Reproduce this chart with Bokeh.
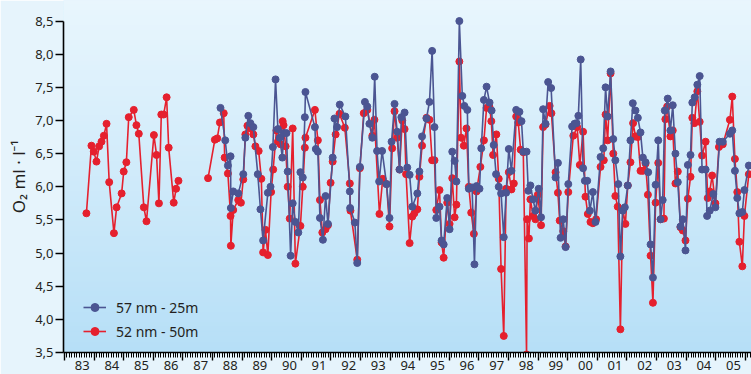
import math
from bokeh.plotting import figure
from bokeh.models import (ColumnDataSource, LinearAxis, FixedTicker, Range1d,
                          BoxAnnotation, Legend, LegendItem)
from bokeh.embed import file_html
from bokeh.resources import INLINE

FONT = "Noto Sans"
NaN = float("nan")

# 52 nm - 50m (red)
red_year = [1983.74, 1983.91, 1983.99, 1984.08, 1984.17, 1984.25, 1984.33, 1984.42, 1984.51, 1984.67,
            1984.76, 1984.93, 1985.00, 1985.09, 1985.17, 1985.34, 1985.43, 1985.51, 1985.68, 1985.77,
            1986.02, 1986.11, 1986.19, 1986.27, 1986.35, 1986.45, 1986.52, 1986.69, 1986.77, 1986.85,
            NaN,
            1987.85, 1988.08, 1988.16, 1988.25, 1988.38, 1988.41, 1988.52, 1988.61, 1988.62, 1988.70,
            1988.87, 1988.96, 1989.04, 1989.11, 1989.18, 1989.28, 1989.38, 1989.45, 1989.56, 1989.65,
            1989.71, 1989.79, 1989.87, 1989.98, 1990.05, 1990.16, 1990.21, 1990.30, 1990.37, 1990.40,
            1990.47, 1990.54, 1990.61, 1990.71, 1990.80, 1990.97, 1991.05, 1991.12, 1991.14, 1991.46,
            1991.56, 1991.63, 1991.71, 1991.82, 1991.90, 1991.99, 1992.06, 1992.16, 1992.29, 1992.47,
            1992.64, 1992.66, 1992.89, 1992.98, 1993.11, 1993.23, 1993.40, 1993.47, 1993.64, 1993.75,
            1993.88, 1993.98, 1994.07, 1994.15, 1994.24, 1994.32, 1994.41, 1994.49, 1994.54, 1994.66,
            1994.75, 1994.82, 1994.92, 1994.99, 1995.08, 1995.23, 1995.33, 1995.42, 1995.50, 1995.56,
            1995.67, 1995.74, 1995.81, 1995.93, 1996.01, 1996.10, 1996.18, 1996.24, 1996.34, 1996.40,
            1996.49, 1996.58, 1996.66, 1996.74, 1996.83, 1996.92, 1997.05, 1997.17, 1997.26, 1997.36,
            1997.42, 1997.48, 1997.59, 1997.67, 1997.75, 1997.84, 1997.92, 1998.01, 1998.10, 1998.18,
            1998.26, 1998.33, 1998.41, 1998.50, 1998.61, 1998.63, 1998.69, 1998.74, 1998.83, 1998.91,
            1998.99, 1999.10, 1999.17, 1999.25, 1999.39, 1999.45, 1999.59, 1999.67, 1999.73, 1999.85,
            1999.93, 2000.02, 2000.19, 2000.32, 2000.41, 2000.52, 2000.60, 2000.68, 2000.77, 2000.85,
            2000.96, 2001.11, 2001.22, 2001.28, 2001.35, 2001.45, 2001.54, 2001.61, 2001.69, 2001.78,
            2001.86, 2001.95, 2002.03, 2002.12, 2002.21, 2002.29, 2002.37, 2002.46, 2002.54, 2002.63,
            2002.71, 2002.80, 2002.88, 2002.97, 2003.06, 2003.14, 2003.25, 2003.30, 2003.36, 2003.47,
            2003.55, 2003.64, 2003.72, 2003.81, 2003.89, 2003.98, 2004.06, 2004.15, 2004.21, 2004.28,
            2004.38, 2004.46, 2004.54, 2004.66, 2004.73, 2004.80, 2004.88, 2004.99, 2005.11, 2005.24,
            2005.48, 2005.56, 2005.65, 2005.73, 2005.80, 2005.90, 2005.97, 2006.12]
red_o2 = [5.60, 6.62, 6.53, 6.38, 6.61, 6.68, 6.77, 6.95, 6.07, 5.30,
          5.69, 5.90, 6.23, 6.37, 7.05, 7.16, 6.93, 6.80, 5.69, 5.48,
          6.78, 6.48, 5.75, 7.09, 7.09, 7.35, 6.59, 5.76, 5.97, 6.09,
          NaN,
          6.13, 6.71, 6.73, 6.97, 7.11, 6.44, 6.20, 5.56, 5.11, 5.65,
          5.80, 5.76, 6.11, 6.79, 6.92, 6.88, 6.79, 6.61, 6.54, 6.12,
          5.01, 5.35, 4.97, 5.92, 6.26, 6.85, 6.68, 6.64, 6.99, 6.93,
          6.61, 6.00, 5.52, 6.88, 4.84, 5.41, 6.00, 6.59, 6.74, 7.16,
          6.70, 5.80, 5.31, 5.36, 5.42, 6.06, 6.38, 6.79, 7.10, 6.89,
          6.05, 5.64, 4.90, 6.28, 7.11, 7.16, 6.77, 7.01, 5.59, 6.12,
          6.04, 5.40, 6.58, 7.14, 6.74, 6.26, 7.00, 6.87, 6.19, 5.15,
          5.55, 5.60, 5.66, 6.15, 6.62, 7.04, 7.01, 6.40, 6.40, 5.65,
          5.95, 5.16, 4.93, 5.76, 5.44, 6.13, 5.54, 5.73, 7.89, 6.74,
          6.62, 6.88, 6.00, 5.61, 5.29, 5.93, 6.30, 6.70, 7.19, 7.20,
          6.99, 6.48, 6.79, 6.12, 4.76, 3.75, 5.97, 6.22, 5.96, 6.05,
          7.06, 6.97, 6.56, 6.52, 3.47, 5.51, 5.22, 5.81, 5.56, 5.51,
          5.88, 5.42, 6.90, 6.94, 7.22, 7.11, 6.22, 5.91, 5.49, 5.33,
          5.10, 5.92, 6.77, 6.90, 6.33, 6.83, 5.85, 5.59, 5.47, 5.45,
          5.51, 6.30, 6.40, 7.09, 6.70, 7.71, 6.50, 5.86, 5.70, 3.85,
          5.66, 5.44, 6.02, 6.37, 6.96, 6.76, 6.75, 6.24, 6.24, 6.35,
          5.88, 4.96, 4.25, 5.76, 6.36, 5.51, 5.52, 7.02, 7.21, 6.76,
          6.85, 6.05, 6.23, 5.39, 5.34, 5.19, 5.82, 6.15, 7.04, 6.96,
          7.44, 6.98, 6.47, 6.68, 5.83, 5.93, 6.17, 5.75, 6.60, 6.64,
          7.01, 7.36, 6.42, 5.92, 5.17, 4.80, 5.56, 6.19]

# 57 nm - 25m (blue)
blue_year = [1988.27, 1988.43, 1988.52, 1988.61, 1988.62, 1988.70, 1988.87, 1989.04, 1989.11, 1989.21,
             1989.28, 1989.38, 1989.53, 1989.62, 1989.71, 1989.87, 1989.96, 1990.04, 1990.13, 1990.21,
             1990.27, 1990.36, 1990.41, 1990.50, 1990.54, 1990.64, 1990.71, 1990.80, 1990.90, 1990.97,
             1991.05, 1991.12, 1991.14, 1991.46, 1991.49, 1991.56, 1991.63, 1991.73, 1991.82, 1991.90,
             1992.06, 1992.12, 1992.21, 1992.30, 1992.49, 1992.64, 1992.65, 1992.81, 1992.89, 1992.98,
             1993.15, 1993.23, 1993.30, 1993.40, 1993.48, 1993.56, 1993.63, 1993.73, 1993.88, 1993.98,
             1994.05, 1994.15, 1994.24, 1994.32, 1994.38, 1994.49, 1994.58, 1994.66, 1994.75, 1994.92,
             1994.99, 1995.08, 1995.23, 1995.33, 1995.42, 1995.50, 1995.56, 1995.67, 1995.74, 1995.81,
             1995.93, 1996.01, 1996.10, 1996.18, 1996.24, 1996.34, 1996.44, 1996.51, 1996.61, 1996.66,
             1996.77, 1996.85, 1996.92, 1997.02, 1997.08, 1997.17, 1997.26, 1997.36, 1997.43, 1997.50,
             1997.58, 1997.67, 1997.75, 1997.84, 1997.92, 1998.01, 1998.10, 1998.26, 1998.37, 1998.44,
             1998.50, 1998.61, 1998.67, 1998.74, 1998.83, 1998.91, 1999.02, 1999.10, 1999.17, 1999.25,
             1999.34, 1999.44, 1999.59, 1999.67, 1999.76, 1999.85, 1999.93, 2000.02, 2000.15, 2000.23,
             2000.30, 2000.36, 2000.44, 2000.52, 2000.58, 2000.66, 2000.75, 2000.85, 2000.94, 2001.11,
             2001.20, 2001.28, 2001.35, 2001.45, 2001.54, 2001.61, 2001.71, 2001.78, 2001.86, 2001.93,
             2002.03, 2002.12, 2002.20, 2002.29, 2002.37, 2002.46, 2002.54, 2002.63, 2002.72, 2002.80,
             2002.88, 2002.97, 2003.06, 2003.14, 2003.21, 2003.28, 2003.38, 2003.47, 2003.55, 2003.64,
             2003.72, 2003.81, 2003.89, 2003.98, 2004.06, 2004.15, 2004.21, 2004.29, 2004.38, 2004.46,
             2004.54, 2004.66, 2004.71, 2004.80, 2004.92, 2004.99, 2005.13, 2005.24, 2005.48, 2005.56,
             2005.65, 2005.73, 2005.80, 2005.90, 2005.97, 2006.12]
blue_o2 = [7.19, 6.70, 6.32, 6.46, 5.68, 5.93, 5.90, 6.19, 6.74, 7.07,
           6.96, 6.90, 6.19, 5.66, 5.19, 5.91, 6.00, 6.60, 7.62, 6.87,
           6.74, 6.44, 6.81, 6.81, 6.23, 4.96, 5.75, 5.47, 5.31, 6.22,
           6.14, 7.05, 7.43, 6.90, 6.57, 6.53, 5.53, 5.20, 5.86, 5.44,
           6.44, 7.03, 6.90, 7.24, 7.06, 5.93, 5.68, 5.46, 4.85, 6.30,
           7.28, 7.21, 6.95, 6.74, 7.66, 6.54, 6.08, 6.54, 6.04, 5.53,
           6.68, 7.25, 6.83, 6.26, 7.05, 7.12, 6.29, 6.18, 5.70, 5.90,
           6.23, 6.76, 7.03, 7.28, 8.05, 6.90, 5.53, 5.70, 5.19, 5.13,
           5.83, 5.36, 6.53, 6.39, 6.08, 8.50, 7.37, 7.22, 7.16, 5.97,
           5.99, 4.83, 6.01, 5.97, 6.58, 7.31, 7.51, 7.27, 7.15, 6.63,
           6.19, 6.00, 5.90, 5.24, 5.91, 6.57, 6.24, 7.16, 7.13, 6.99,
           6.53, 6.53, 5.94, 6.02, 5.81, 5.64, 5.97, 5.54, 7.17, 6.95,
           7.58, 7.49, 6.14, 6.36, 5.23, 5.51, 5.09, 6.04, 6.91, 6.95,
           6.96, 7.07, 7.92, 6.28, 6.09, 6.09, 5.64, 5.92, 5.47, 6.45,
           6.58, 7.50, 7.06, 7.74, 6.72, 6.40, 6.04, 4.95, 5.64, 5.69,
           6.02, 6.70, 7.26, 7.15, 7.04, 6.82, 6.44, 6.37, 6.22, 5.13,
           4.63, 6.03, 6.70, 5.51, 5.80, 7.15, 7.33, 6.85, 7.23, 6.50,
           6.07, 5.40, 5.51, 5.04, 6.33, 6.48, 7.27, 7.35, 7.54, 7.67,
           6.26, 6.26, 5.56, 5.64, 5.89, 5.69, 6.68, 6.68, 6.80, 6.85,
           6.24, 5.83, 5.60, 5.62, 5.95, 6.32]

year_starts = list(range(1983, 2007))
year_labels = ["83", "84", "85", "86", "87", "88", "89", "90", "91", "92", "93", "94",
               "95", "96", "97", "98", "99", "00", "01", "02", "03", "04", "05"]
y_ticks = [3.5, 4.0, 4.5, 5.0, 5.5, 6.0, 6.5, 7.0, 7.5, 8.0, 8.5]
y_labels = ["3,5", "4,0", "4,5", "5,0", "5,5", "6,0", "6,5", "7,0", "7,5", "8,0", "8,5"]

BLUE = "#4b5592"
RED = "#e5202e"
TXT = "#231f20"

y_top = 8.81
p = figure(width=751, height=374, output_backend="svg", toolbar_location=None,
           x_range=Range1d(1982.966, 2006.21), y_range=Range1d(3.5, y_top),
           x_axis_type=None, y_axis_type=None,
           min_border_left=63, min_border_right=0, min_border_top=0, min_border_bottom=22)
p.outline_line_color = None
p.border_fill_color = "#e6f4fc"
p.background_fill_color = "#d0ebfa"

# vertical gradient background
n = 70
top_c = (233, 246, 253)
bot_c = (182, 223, 247)
h = (y_top - 3.5) / n
for i in range(n):
    t = (i + 0.5) / n
    c = tuple(int(round(top_c[k] + (bot_c[k] - top_c[k]) * t)) for k in range(3))
    hi = y_top - i * h + 0.01
    lo = y_top - (i + 1) * h - 0.01
    p.add_layout(BoxAnnotation(bottom=lo, top=hi, fill_color="#%02x%02x%02x" % c,
                               fill_alpha=1.0, line_color=None, level="underlay"))

red_src = ColumnDataSource(dict(x=red_year, y=red_o2))
blue_src = ColumnDataSource(dict(x=blue_year, y=blue_o2))

rl = p.line("x", "y", source=red_src, line_color=RED, line_width=1.6)
rs = p.scatter("x", "y", source=red_src, size=7, fill_color=RED, line_color=RED)
bl = p.line("x", "y", source=blue_src, line_color=BLUE, line_width=1.6)
bs = p.scatter("x", "y", source=blue_src, size=7, fill_color=BLUE, line_color=BLUE)

# y axis
yax = LinearAxis(ticker=FixedTicker(ticks=y_ticks, minor_ticks=[]), bounds=(3.5, 8.5),
                 axis_label="O₂ ml · l⁻¹")
yax.major_label_overrides = {t: l for t, l in zip(y_ticks, y_labels)}
yax.axis_line_color = "black"
yax.axis_line_width = 1.6
yax.major_tick_line_color = "black"
yax.major_tick_line_width = 1.4
yax.major_tick_out = 8
yax.major_tick_in = 0
yax.major_label_standoff = 2
yax.major_label_text_font = FONT
yax.major_label_text_font_size = "13px"
yax.major_label_text_color = TXT
yax.axis_label_text_font = FONT
yax.axis_label_text_font_size = "17px"
yax.axis_label_text_font_style = "normal"
yax.axis_label_text_color = TXT
yax.axis_label_standoff = 2
p.add_layout(yax, "left")

# x axis line with year-boundary ticks (no labels, takes no layout space)
xax1 = LinearAxis(ticker=FixedTicker(ticks=[], minor_ticks=year_starts))
xax1.axis_line_color = "black"
xax1.axis_line_width = 1.6
xax1.major_tick_line_color = None
xax1.major_tick_out = 0
xax1.major_tick_in = 0
xax1.minor_tick_line_color = "black"
xax1.minor_tick_line_width = 1.4
xax1.minor_tick_out = 0
xax1.minor_tick_in = -8
xax1.major_label_standoff = 0
p.add_layout(xax1, "below")

# monthly ticks + year labels centred in each year
month_ticks = [1983 + k / 12 for k in range(0, 12 * 23 + 3)]
label_pos = [y + 0.6 for y in year_starts[:-1]]
xax2 = LinearAxis(ticker=FixedTicker(ticks=label_pos, minor_ticks=month_ticks))
xax2.major_label_overrides = {t: l for t, l in zip(label_pos, year_labels)}
xax2.axis_line_color = None
xax2.major_tick_line_color = None
xax2.major_tick_out = 0
xax2.major_tick_in = 0
xax2.minor_tick_line_color = "black"
xax2.minor_tick_line_width = 1.0
xax2.minor_tick_out = 5
xax2.minor_tick_in = 0
xax2.major_label_standoff = 3
xax2.major_label_text_font = FONT
xax2.major_label_text_font_size = "13px"
xax2.major_label_text_color = TXT
p.add_layout(xax2, "below")

legend = Legend(items=[LegendItem(label="57 nm - 25m", renderers=[bl, bs]),
                       LegendItem(label="52 nm - 50m", renderers=[rl, rs])],
                location=(20, 11), background_fill_alpha=0, border_line_color=None,
                label_text_font=FONT, label_text_font_size="14px", label_text_color=TXT,
                glyph_width=23, glyph_height=20, label_height=20, spacing=4,
                padding=0, margin=0, label_standoff=10)
p.add_layout(legend)

open("out.html", "w").write(file_html(p, INLINE))
